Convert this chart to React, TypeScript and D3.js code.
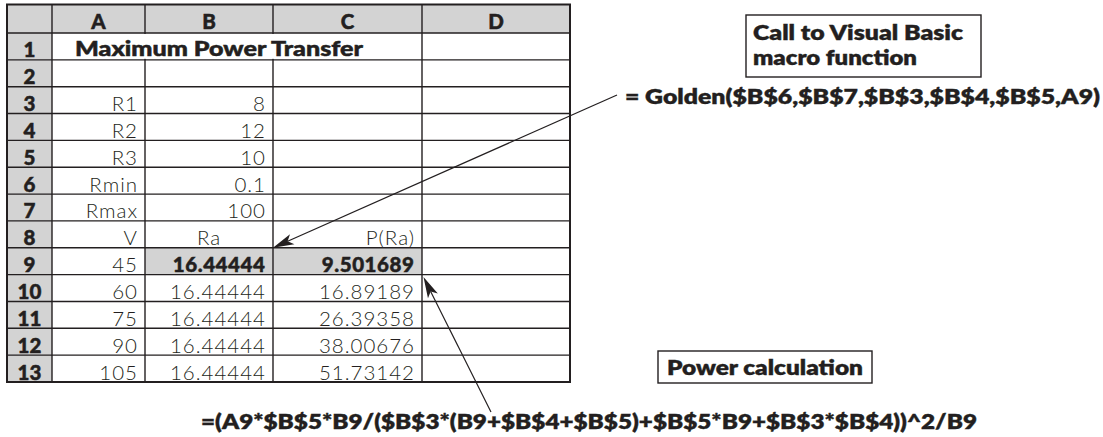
import React, { useEffect, useRef } from 'react';
import * as d3 from 'd3';

// spreadsheet content
const columns = ['A', 'B', 'C', 'D'];
const rowNumbers = [1, 2, 3, 4, 5, 6, 7, 8, 9, 10, 11, 12, 13];
const title = 'Maximum Power Transfer';
const colA = ['', '', 'R1', 'R2', 'R3', 'Rmin', 'Rmax', 'V', '45', '60', '75', '90', '105'];
const colB = ['', '', '8', '12', '10', '0.1', '100', 'Ra', '16.44444', '16.44444', '16.44444', '16.44444', '16.44444'];
const colC = ['', '', '', '', '', '', '', 'P(Ra)', '9.501689', '16.89189', '26.39358', '38.00676', '51.73142'];
const colD = ['', '', '', '', '', '', '', '', '', '', '', '', ''];
const highlighted = ['B9', 'C9'];
const centered = ['B8'];

// annotations
const macroNote = ['Call to Visual Basic', 'macro function'];
const macroFormula = '= Golden($B$6,$B$7,$B$3,$B$4,$B$5,A9)';
const powerNote = 'Power calculation';
const powerFormula = '=(A9*$B$5*B9/($B$3*(B9+$B$4+$B$5)+$B$5*B9+$B$3*$B$4))^2/B9';

const W = 1103;
const H = 437;
const INK = '#231f20';
const GRAY = '#d3d3d3';
const FONT = 'Lato, "Open Sans", sans-serif';

function App() {
  const node = useRef<SVGSVGElement | null>(null);

  useEffect(() => {
    const svg = d3.select(node.current);
    svg.selectAll('*').remove();

    const keys = ['#', ...columns, 'end'];
    const x = d3.scaleOrdinal<string, number>()
      .domain(keys)
      .range([7, 52, 145, 273, 422, 570]);
    const colRight = (c: string) => x(keys[keys.indexOf(c) + 1]);
    const headTop = 4.5;
    const y = d3.scaleLinear().domain([0, rowNumbers.length]).range([33, 382]);

    const values: Record<string, string[]> = { A: colA, B: colB, C: colC, D: colD };

    // fills
    svg.append('rect')
      .attr('x', x('#')).attr('y', headTop)
      .attr('width', x('end') - x('#')).attr('height', y(0) - headTop)
      .attr('fill', GRAY);
    svg.append('rect')
      .attr('x', x('#')).attr('y', y(0))
      .attr('width', x('A') - x('#')).attr('height', y(rowNumbers.length) - y(0))
      .attr('fill', GRAY);
    svg.append('g').selectAll('rect')
      .data(highlighted)
      .enter().append('rect')
        .attr('x', d => x(d[0]))
        .attr('y', d => y(+d.slice(1) - 1))
        .attr('width', d => colRight(d[0]) - x(d[0]))
        .attr('height', d => y(+d.slice(1)) - y(+d.slice(1) - 1))
        .attr('fill', GRAY);

    // grid
    const grid = svg.append('g').attr('stroke', INK).attr('stroke-width', 1.4);
    grid.selectAll('line.h')
      .data(d3.range(0, rowNumbers.length + 1))
      .enter().append('line')
        .attr('x1', x('#')).attr('x2', x('end'))
        .attr('y1', d => y(d)).attr('y2', d => y(d));
    grid.selectAll('line.v')
      .data(columns)
      .enter().append('line')
        .attr('x1', d => x(d)).attr('x2', d => x(d))
        .attr('y1', headTop).attr('y2', y(rowNumbers.length));
    // merged title cell A1:C1
    svg.append('rect')
      .attr('x', x('A') + 1).attr('y', y(0) + 1)
      .attr('width', x('D') - x('A') - 2).attr('height', y(1) - y(0) - 2)
      .attr('fill', '#fff');
    svg.append('rect')
      .attr('x', x('#')).attr('y', headTop)
      .attr('width', x('end') - x('#')).attr('height', y(rowNumbers.length) - headTop)
      .attr('fill', 'none').attr('stroke', INK).attr('stroke-width', 2);

    const heavy = (sel: any) => sel
      .attr('font-family', FONT).attr('font-weight', 900).attr('font-size', 20.5)
      .attr('fill', INK).attr('stroke', INK).attr('stroke-width', 0.5);

    // column letters
    svg.append('g').call(heavy).selectAll('text')
      .data(columns)
      .enter().append('text')
        .attr('x', d => (x(d) + colRight(d)) / 2)
        .attr('y', y(0) - 3.7)
        .attr('text-anchor', 'middle')
        .text(d => d);

    // row numbers
    svg.append('g').call(heavy).selectAll('text')
      .data(rowNumbers)
      .enter().append('text')
        .attr('x', (x('#') + x('A')) / 2)
        .attr('y', d => y(d) - 2.5)
        .attr('text-anchor', 'middle')
        .text(d => d);

    // title
    svg.append('text').call(heavy)
      .attr('x', 75).attr('y', y(1) - 4)
      .attr('textLength', 288).attr('lengthAdjust', 'spacingAndGlyphs')
      .text(title);

    // cell values
    const cells: { col: string; row: number; text: string }[] = [];
    columns.forEach(c => values[c].forEach((t, i) => { if (t) cells.push({ col: c, row: rowNumbers[i], text: t }); }));
    const isBold = (d: { col: string; row: number }) => highlighted.includes(d.col + d.row);
    const spacing = (d: { col: string; row: number }) => isBold(d) ? 0.6 : 1;
    svg.append('g').selectAll('text')
      .data(cells)
      .enter().append('text')
        .attr('x', d => centered.includes(d.col + d.row)
          ? (x(d.col) + colRight(d.col)) / 2
          : colRight(d.col) - 8 + spacing(d))
        .attr('y', d => y(d.row) - 2.5)
        .attr('text-anchor', d => centered.includes(d.col + d.row) ? 'middle' : 'end')
        .attr('font-family', FONT)
        .attr('font-weight', d => isBold(d) ? 900 : 300)
        .attr('stroke', d => isBold(d) ? INK : 'none')
        .attr('stroke-width', 0.5)
        .attr('letter-spacing', spacing)
        .attr('font-size', 20.5)
        .attr('fill', INK)
        .text(d => d.text);

    // annotation boxes
    const note = svg.append('g').attr('font-family', FONT).attr('font-weight', 800)
      .attr('font-size', 20).attr('fill', INK).attr('stroke', INK).attr('stroke-width', 0.35);
    note.append('rect')
      .attr('x', 746).attr('y', 15).attr('width', 235).attr('height', 62)
      .attr('fill', 'none').attr('stroke-width', 1.4);
    note.selectAll('text.m')
      .data(macroNote)
      .enter().append('text')
        .attr('x', 753).attr('y', (d, i) => 40 + i * 25)
        .attr('textLength', (d, i) => [210, 164][i]).attr('lengthAdjust', 'spacingAndGlyphs')
        .text(d => d);
    note.append('text')
      .attr('x', 625).attr('y', 104)
      .attr('textLength', 475).attr('lengthAdjust', 'spacingAndGlyphs')
      .text(macroFormula);
    note.append('rect')
      .attr('x', 658).attr('y', 351).attr('width', 214).attr('height', 32)
      .attr('fill', 'none').attr('stroke-width', 1.4);
    note.append('text')
      .attr('x', 667).attr('y', 375)
      .attr('textLength', 196).attr('lengthAdjust', 'spacingAndGlyphs')
      .text(powerNote);
    note.append('text')
      .attr('x', 201).attr('y', 429)
      .attr('textLength', 776).attr('lengthAdjust', 'spacingAndGlyphs')
      .text(powerFormula);

    // arrows
    const arrows = [
      { from: [617, 95], to: [colRight('B'), y(8)] },
      { from: [491, 412], to: [colRight('C') + 1.5, y(9) + 2.5] },
    ];
    const head = 'M0,0 L-21,-5.5 L-16,0 L-21,5.5 Z';
    arrows.forEach(a => {
      const ang = Math.atan2(a.to[1] - a.from[1], a.to[0] - a.from[0]);
      svg.append('line')
        .attr('x1', a.from[0]).attr('y1', a.from[1])
        .attr('x2', a.to[0] - Math.cos(ang) * 16).attr('y2', a.to[1] - Math.sin(ang) * 16)
        .attr('stroke', INK).attr('stroke-width', 1.2);
      svg.append('path')
        .attr('d', head)
        .attr('transform', `translate(${a.to[0]},${a.to[1]}) rotate(${ang * 180 / Math.PI})`)
        .attr('fill', INK);
    });
  }, []);

  return (
    <svg ref={node} width={W} height={H}
      style={{ position: 'absolute', left: 0, top: 0, background: '#fff' }} />
  );
}

export default App;
